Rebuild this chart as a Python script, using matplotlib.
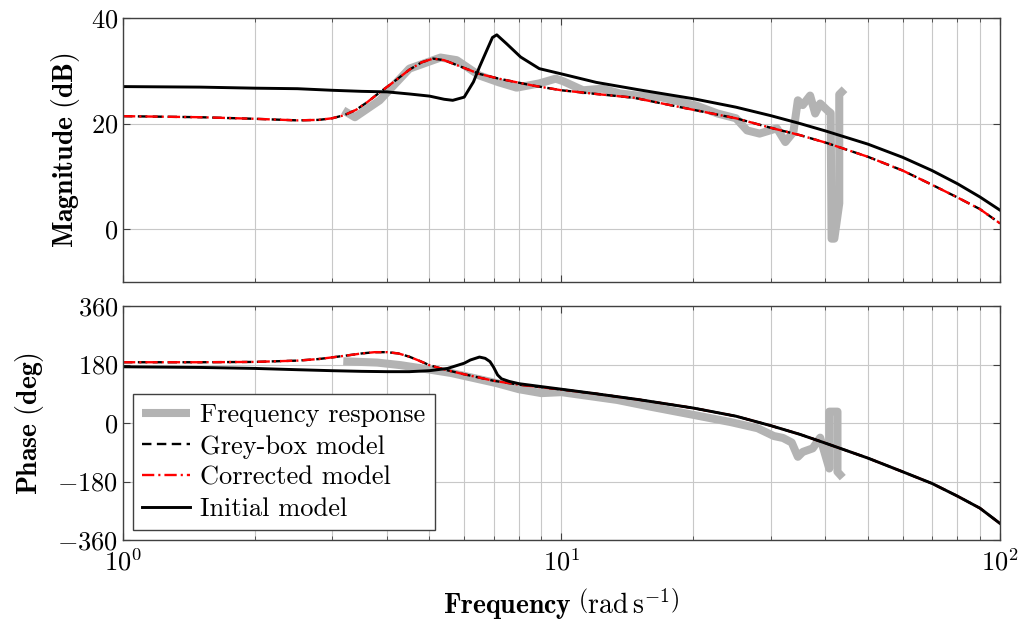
import matplotlib
matplotlib.use("Agg")
from matplotlib import pyplot as plt
from matplotlib.ticker import FixedLocator, FixedFormatter, LogLocator, NullFormatter

plt.rcParams['font.family'] = 'cmr10'
plt.rcParams['mathtext.fontset'] = 'cm'
plt.rcParams['axes.unicode_minus'] = False

# measured frequency response (rad/s, dB, deg)
w_meas = [3.18, 3.38, 3.85, 4.5, 5.3, 5.77, 6.5, 7.2, 7.9, 8.9, 9.7, 10.1, 11.2, 12.4,
          13.6, 14.9, 16.8, 18.9, 20.3, 22.7, 25.0, 26.5, 28.3, 31.0, 32.4, 33.8, 34.6,
          35.5, 36.9, 37.9, 38.9, 40.4, 41.1, 41.3, 41.9, 43.0, 43.0, 44.2]
mag_meas = [22.5, 21.2, 24.4, 30.4, 32.5, 32.0, 29.1, 27.8, 26.8, 27.6, 28.5, 28.0, 26.3, 26.6,
            25.7, 25.3, 25.0, 24.0, 23.4, 21.9, 21.0, 18.7, 18.1, 19.1, 16.5, 18.4, 24.4,
            23.5, 25.3, 21.9, 23.8, 22.5, 22.0, -1.8, -1.8, 4.9, 25.5, 26.5]

w_meas_ph = [3.18, 3.8, 4.3, 4.75, 5.6, 7.1, 8.0, 9.0, 10.0, 13.4, 16.0, 20.0, 24.3, 28.0,
             30.5, 32.0, 33.5, 34.6, 35.5, 37.4, 38.9, 40.8, 40.8, 42.6, 42.6, 43.8]
ph_meas = [190, 186, 178, 169, 154, 123, 104, 92, 95, 71, 50, 25, 3, -16,
           -40, -46, -60, -104, -89, -78, -45, -140, 35, 35, -150, -168]

# grey-box model (the corrected model lies on top of it)
w_grey = [1, 1.5, 2, 2.5, 2.8, 3.0, 3.2, 3.4, 3.6, 3.85, 4.1, 4.5, 4.8, 5.1, 5.4, 5.8,
          6.5, 7.2, 8.6, 10, 12, 14.6, 20, 25, 30, 35, 40, 50, 60, 70, 80, 90, 100]
mag_grey = [21.4, 21.2, 20.9, 20.6, 20.7, 21.0, 21.6, 22.6, 24.0, 25.9, 27.6, 30.2, 31.6, 32.3,
            32.0, 31.0, 29.4, 28.5, 27.2, 26.3, 25.6, 24.9, 22.6, 21.0, 19.2, 17.8, 16.4,
            13.7, 11.1, 8.4, 6.0, 3.8, 1.1]

w_grey_ph = [1, 1.5, 2, 2.5, 2.8, 3.0, 3.25, 3.5, 3.75, 4.0, 4.25, 4.5, 4.75, 5.0, 5.5, 6.0,
             7.0, 8.0, 9.0, 10, 12, 15, 20, 25, 30, 35, 40, 50, 60, 70, 80, 90, 100]
ph_grey = [187, 187, 188, 192, 197, 202, 208, 214, 218, 218, 214, 204, 191, 178, 162, 150,
           130, 118, 110, 103, 90, 72, 46, 21, -8, -35, -62, -108, -150, -186, -225, -262, -309]

mag_corr = list(mag_grey)
ph_corr = list(ph_grey)

# initial model
w_init = [1, 1.5, 2, 2.5, 3, 3.5, 4, 4.5, 5.0, 5.4, 5.65, 6.0, 6.3, 6.5, 6.75, 6.96, 7.12,
          7.5, 8.07, 8.9, 10, 12, 15, 20, 25, 30, 35, 40, 50, 60, 70, 80, 90, 100]
mag_init = [27.0, 26.9, 26.7, 26.6, 26.3, 26.1, 26.0, 25.6, 25.2, 24.6, 24.4, 25.0, 27.9, 30.7,
            33.8, 36.3, 36.8, 35.1, 32.6, 30.4, 29.4, 27.8, 26.4, 24.7, 23.1, 21.5, 20.0,
            18.6, 16.1, 13.6, 11.1, 8.6, 6.1, 3.6]

w_init_ph = [1, 1.5, 2, 2.5, 3, 3.5, 4, 4.5, 5, 5.5, 6.0, 6.2, 6.5, 6.7, 6.87, 7.0, 7.15,
             7.3, 7.6, 8.0, 9, 10, 12, 15, 20, 25, 30, 35, 40, 50, 60, 70, 80, 90, 100]
ph_init = [173, 171, 168, 164, 161, 159, 158, 158, 161, 168, 184, 194, 203, 199, 189, 172, 148,
           136, 128, 121, 112, 104, 90, 72, 46, 21, -8, -35, -62, -108, -150, -186, -225,
           -262, -309]

fig = plt.figure(figsize=(10.23, 6.23), dpi=100)
ax1 = fig.add_axes([0.1202, 0.5474, 0.8573, 0.4238])
ax2 = fig.add_axes([0.1202, 0.1332, 0.8573, 0.3756], sharex=ax1)

grey_kw = dict(color='#b3b3b3', lw=5.8, solid_joinstyle='round', solid_capstyle='butt')
dash_kw = dict(color='k', lw=1.7, dashes=(4.0, 2.3))
corr_kw = dict(color='red', lw=1.7, dashes=(5.2, 1.7, 0.9, 1.7))
init_kw = dict(color='k', lw=2.1)

ax1.plot(w_meas, mag_meas, **grey_kw)
ax1.plot(w_grey, mag_grey, **dash_kw)
ax1.plot(w_grey, mag_corr, **corr_kw)
ax1.plot(w_init, mag_init, **init_kw)

ax2.plot(w_meas_ph, ph_meas, label='Frequency response', **grey_kw)
ax2.plot(w_grey_ph, ph_grey, label='Grey-box model', **dash_kw)
ax2.plot(w_grey_ph, ph_corr, label='Corrected model', **corr_kw)
ax2.plot(w_init_ph, ph_init, label='Initial model', **init_kw)

ax1.set_xscale('log')
ax1.set_xlim(1, 100)
ax1.set_ylim(-10, 40)
ax2.set_ylim(-360, 360)

mag_ticks = [0, 20, 40]
ph_ticks = [-360, -180, 0, 180, 360]
ax1.yaxis.set_major_locator(FixedLocator(mag_ticks))
ax1.yaxis.set_major_formatter(FixedFormatter([f'${t}$' for t in mag_ticks]))
ax2.yaxis.set_major_locator(FixedLocator(ph_ticks))
ax2.yaxis.set_major_formatter(FixedFormatter([f'${t}$' for t in ph_ticks]))

ax2.xaxis.set_major_locator(FixedLocator([1, 10, 100]))
ax2.xaxis.set_major_formatter(FixedFormatter(['$10^{0}$', '$10^{1}$', '$10^{2}$']))
ax2.xaxis.set_minor_locator(LogLocator(base=10, subs=range(2, 10)))
ax2.xaxis.set_minor_formatter(NullFormatter())
plt.setp(ax1.get_xticklabels(), visible=False)

for ax in (ax1, ax2):
    ax.grid(True, which='major', color='#c8c8c8', lw=0.8)
    ax.grid(True, which='minor', axis='x', color='#c8c8c8', lw=0.8)
    ax.tick_params(which='both', direction='in', top=True, right=True, labelsize=19,
                   color='#404040')
    ax.tick_params(which='major', length=5)
    ax.tick_params(which='minor', length=3)
    for s in ax.spines.values():
        s.set_color('#404040')
        s.set_linewidth(1.0)
    ax.set_axisbelow(True)
ax2.tick_params(axis='x', pad=6)

ax1.set_ylabel(r'$\mathbf{Magnitude\ (dB)}$', fontsize=20, labelpad=6)
ax2.set_ylabel(r'$\mathbf{Phase\ (deg)}$', fontsize=20, labelpad=8)
ax2.set_xlabel(r'$\mathbf{Frequency}\ \left(\mathrm{rad}\,\mathrm{s}^{-1}\right)$', fontsize=20,
               labelpad=8)

leg = ax2.legend(loc='lower left', fontsize=19, fancybox=False, framealpha=1,
                 edgecolor='#404040', handlelength=1.8, handletextpad=0.4,
                 borderaxespad=0.38, labelspacing=0.28, borderpad=0.35)
leg.get_frame().set_linewidth(1.0)

fig.savefig('out.png', dpi=100)
